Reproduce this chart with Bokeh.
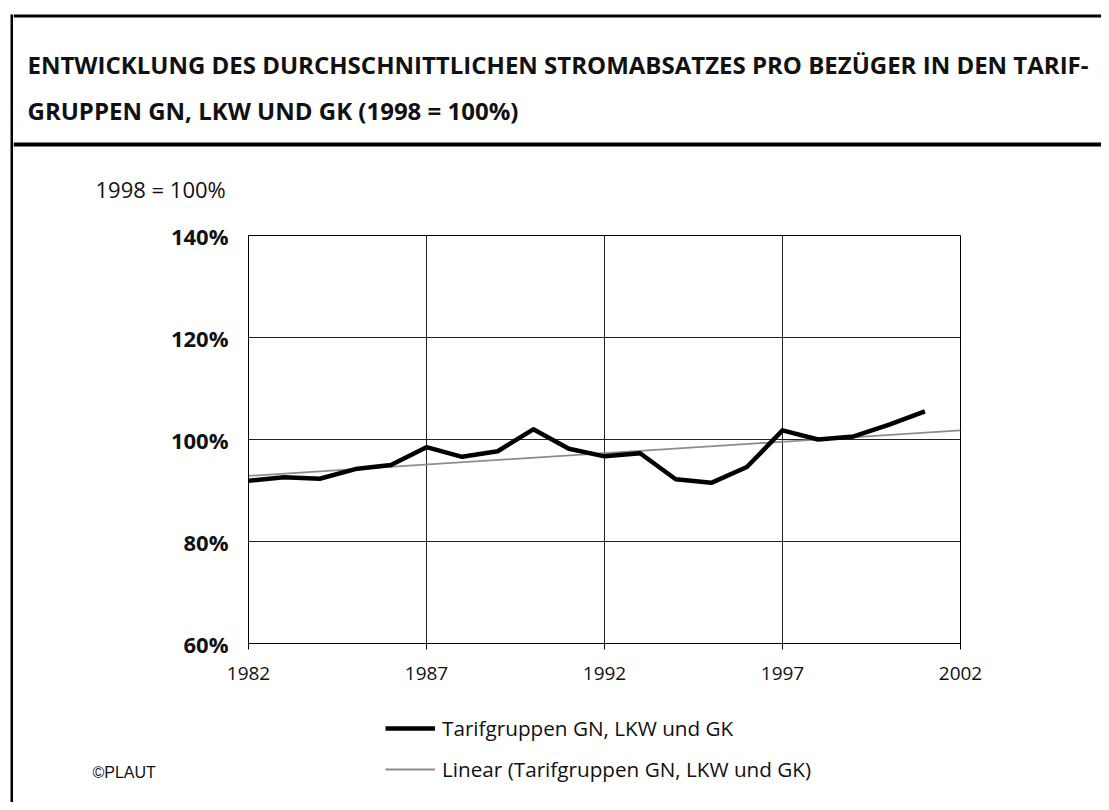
import numpy as np
from bokeh.plotting import figure
from bokeh.layouts import row, column
from bokeh.models import Range1d, FixedTicker, Legend, LegendItem
from bokeh.core.properties import value
from bokeh.embed import file_html
from bokeh.resources import INLINE

# ---- data -------------------------------------------------------------
years = [1982, 1983, 1984, 1985, 1986, 1987, 1988, 1989, 1990, 1991,
         1992, 1993, 1994, 1995, 1996, 1997, 1998, 1999, 2000, 2001]
values = [91.9, 92.6, 92.3, 94.2, 95.0, 98.5, 96.6, 97.7, 102.0, 98.2,
          96.7, 97.3, 92.2, 91.5, 94.6, 101.8, 100.0, 100.6, 102.9, 105.5]
series_name = "Tarifgruppen GN, LKW und GK"
trend_name = "Linear (Tarifgruppen GN, LKW und GK)"
x_ticks = [1982, 1987, 1992, 1997, 2002]
y_ticks = [60, 80, 100, 120, 140]
y_tick_labels = ["60%", "80%", "100%", "120%", "140%"]
title_line1 = "ENTWICKLUNG DES DURCHSCHNITTLICHEN STROMABSATZES PRO BEZÜGER IN DEN TARIF-"
title_line2 = "GRUPPEN GN, LKW UND GK (1998 = 100%)"
unit_label = "1998 = 100%"
credit = "©PLAUT"

# linear trend (least squares), extended to 2002
coef = np.polyfit(years, values, 1)
trend_x = [years[0], 2002]
trend_y = [float(np.polyval(coef, x)) for x in trend_x]

TXT = "#111111"
MAIN_COL, MAIN_W = "black", 4.5
TREND_COL, TREND_W = "#8c8c8c", 1.8

# ---- overall geometry (page pixels) ----------------------------------
W, H = 1101, 802
STRIP = 13
HEAD_H = 205
FOOT_Y = 700
CW = W - STRIP


def no_align(f):
    if "frame_align" in type(f).properties():
        f.frame_align = False
    return f


def deco_figure(width, height, x0, x1, y0, y1):
    f = figure(width=width, height=height, output_backend="svg", toolbar_location=None,
               x_range=Range1d(x0, x1), y_range=Range1d(y1, y0),
               min_border=0, min_border_left=0, min_border_right=0,
               min_border_top=0, min_border_bottom=0,
               background_fill_color="white", border_fill_color="white")
    f.axis.visible = False
    f.grid.visible = False
    f.outline_line_color = None
    return no_align(f)


# left border strip
strip = deco_figure(STRIP, H, 0, STRIP, 0, H)
strip.quad(left=[10], right=[13], top=[14], bottom=[H], fill_color="black", line_color=None)

# header: top border, title, separator, unit label
head = deco_figure(CW, HEAD_H, STRIP, W, 0, HEAD_H)
head.quad(left=[STRIP, STRIP], right=[W, W], top=[14, 142], bottom=[17, 146],
          fill_color="black", line_color=None)
head.text(x=[27, 27], y=[64, 110], text=[title_line1, title_line2],
          text_font=value("Open Sans"), text_font_style="bold", text_font_size="24px",
          text_color=TXT, text_baseline="middle", text_align="left")
head.text(x=[95], y=[188], text=[unit_label], text_font=value("Open Sans"),
          text_font_size="22px", text_color=TXT, text_baseline="middle", text_align="left")

# main chart
p = figure(width=CW, height=FOOT_Y - HEAD_H, output_backend="svg", toolbar_location=None,
           x_range=Range1d(1982, 2002), y_range=Range1d(60, 140),
           min_border_left=248 - STRIP, min_border_right=W - 960,
           min_border_top=235 - HEAD_H, min_border_bottom=FOOT_Y - 643,
           background_fill_color="white", border_fill_color="white")
no_align(p)
p.outline_line_color = "black"
p.outline_line_width = 1

grid_col = "#222222"
p.xgrid.ticker = FixedTicker(ticks=x_ticks)
p.ygrid.ticker = FixedTicker(ticks=y_ticks)
for g in (p.xgrid, p.ygrid):
    g.grid_line_color = grid_col
    g.grid_line_width = 1
    g.grid_line_alpha = 1

xa = p.xaxis[0]
xa.ticker = FixedTicker(ticks=x_ticks)
xa.axis_line_color = "black"
xa.major_tick_line_color = "black"
xa.major_tick_out = 6
xa.major_tick_in = 0
xa.minor_tick_line_color = None
xa.major_label_text_font = "Open Sans"
xa.major_label_text_font_size = "19px"
xa.major_label_text_color = TXT
xa.major_label_standoff = 17

ya = p.yaxis[0]
ya.ticker = FixedTicker(ticks=y_ticks)
ya.major_label_overrides = {t: s for t, s in zip(y_ticks, y_tick_labels)}
ya.axis_line_color = "black"
ya.major_tick_out = 0
ya.major_tick_in = 0
ya.minor_tick_line_color = None
ya.major_label_text_font = "Open Sans"
ya.major_label_text_font_style = "bold"
ya.major_label_text_font_size = "22px"
ya.major_label_text_color = TXT
ya.major_label_standoff = 20

p.line(trend_x, trend_y, line_color=TREND_COL, line_width=TREND_W)
p.line(years, values, line_color=MAIN_COL, line_width=MAIN_W, line_join="round")

# footer: legend and credit (legend proxies carry the same series, outside the footer's view)
foot = deco_figure(CW, H - FOOT_Y, STRIP, W, FOOT_Y, H)
lg_main = foot.line(years, values, line_color=MAIN_COL, line_width=MAIN_W)
lg_trend = foot.line(trend_x, trend_y, line_color=TREND_COL, line_width=TREND_W)
legend = Legend(items=[LegendItem(label=series_name, renderers=[lg_main]),
                       LegendItem(label=trend_name, renderers=[lg_trend])],
                location=(385 - STRIP, H - 784))
legend.border_line_color = None
legend.background_fill_alpha = 0
legend.label_text_font = "Open Sans"
legend.label_text_font_size = "20.7px"
legend.label_text_color = TXT
legend.glyph_width = 50
legend.glyph_height = 30
legend.label_height = 30
legend.spacing = 11
legend.padding = 0
legend.margin = 0
legend.label_standoff = 7
foot.add_layout(legend)
foot.text(x=[92], y=[772], text=[credit], text_font=value("Liberation Sans"),
          text_font_size="16px", text_color=TXT, text_baseline="middle", text_align="left")

layout = row(strip, column(head, p, foot))
open("out.html", "w").write(file_html(layout, INLINE))
